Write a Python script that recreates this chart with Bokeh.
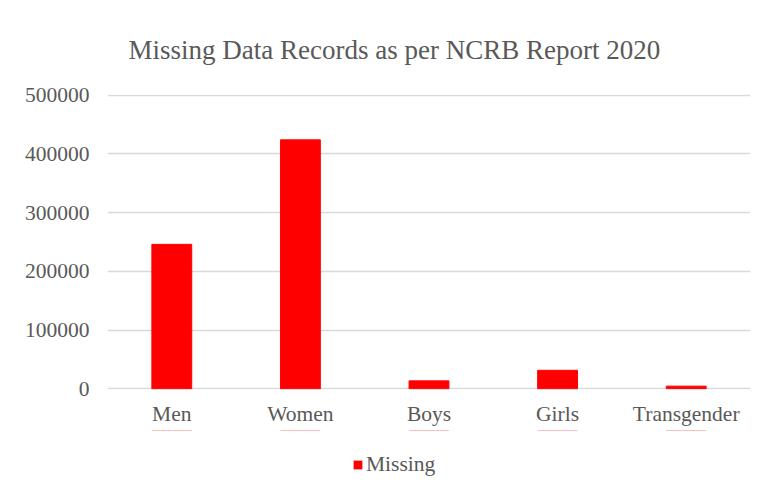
from bokeh.plotting import figure
from bokeh.layouts import column
from bokeh.models import (ColumnDataSource, FixedTicker, BasicTickFormatter, Legend,
                          LegendItem, Range1d, FactorRange)
from bokeh.embed import file_html
from bokeh.resources import INLINE

categories = ["Men", "Women", "Boys", "Girls", "Transgender"]
missing = [246000, 424000, 13500, 31500, 4500]
y_ticks = [0, 100000, 200000, 300000, 400000, 500000]
title_text = "Missing Data Records as per NCRB Report 2020"
series_name = "Missing"

FONT = "Liberation Serif"
TXT = "#595959"
GRID = "#d9d9d9"
BAR = "#ff0000"

src = ColumnDataSource(dict(cat=categories, val=missing))

p = figure(x_range=categories, y_range=Range1d(-1200, 501200),
           width=751, height=430, output_backend="svg", toolbar_location=None,
           min_border_left=107, min_border_right=1, min_border_top=94, min_border_bottom=41)

r = p.vbar(x="cat", top="val", width=0.31, source=src, color=BAR)

p.title.text = title_text
p.title.text_font = FONT
p.title.text_font_size = "27px"
p.title.text_font_style = "normal"
p.title.text_color = TXT
p.title.align = "left"
p.title.offset = 21
p.title.standoff = 60

p.outline_line_color = None
p.xgrid.grid_line_color = None
p.ygrid.grid_line_color = GRID
p.ygrid.grid_line_width = 1.5

p.yaxis.ticker = FixedTicker(ticks=y_ticks)
p.yaxis.formatter = BasicTickFormatter(use_scientific=False)
for ax in (p.xaxis[0], p.yaxis[0]):
    ax.axis_line_color = None
    ax.major_tick_line_color = None
    ax.minor_tick_line_color = None
    ax.major_label_text_font = FONT
    ax.major_label_text_font_size = "21.5px"
    ax.major_label_text_color = TXT
p.yaxis.major_label_standoff = 12
p.xaxis.major_label_standoff = 6

# legend strip below the chart: same series as zero-height, fill-only bars (not visible)
p2 = figure(width=751, height=47, output_backend="svg", toolbar_location=None,
            x_range=FactorRange(factors=categories), y_range=Range1d(-2, -1),
            x_axis_location=None, y_axis_location=None,
            min_border_left=107, min_border_right=1, min_border_top=0, min_border_bottom=0)
p2.outline_line_color = None
p2.grid.visible = False
lr = p2.vbar(x="cat", top="val", bottom="val", width=0.31, source=src,
             fill_color=BAR, line_color=None)

legend = Legend(items=[LegendItem(label=series_name, renderers=[lr])],
                orientation="horizontal", location=(245, 0))
legend.label_text_font = FONT
legend.label_text_font_size = "21.5px"
legend.label_text_color = TXT
legend.glyph_width = 11
legend.glyph_height = 11
legend.label_standoff = 3
legend.border_line_color = None
legend.background_fill_alpha = 0
legend.padding = 2
legend.margin = 0
p2.add_layout(legend, "center")

layout = column(p, p2, spacing=0)
open("out.html", "w").write(file_html(layout, INLINE))
